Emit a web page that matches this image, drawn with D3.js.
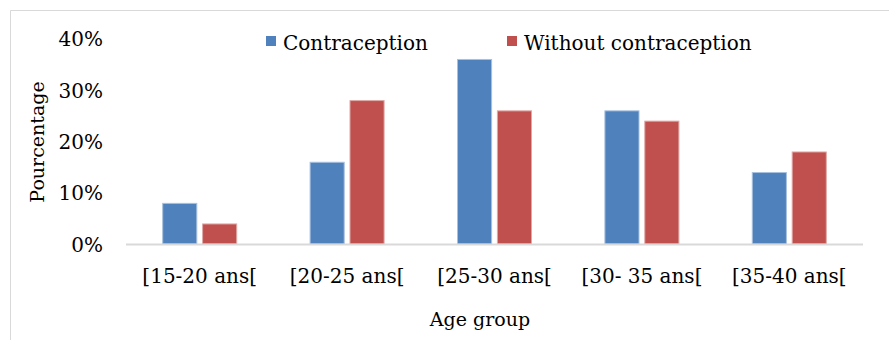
<!DOCTYPE html>
<html><head><meta charset="utf-8">
<script src="https://cdn.jsdelivr.net/npm/d3@7"></script>
<style>body{margin:0;background:#fff}svg{display:block}text{font-family:"DejaVu Serif",serif;fill:#000}</style>
</head><body><svg id="c" width="889" height="340"></svg>
<script>
const categories = ["[15-20 ans[", "[20-25 ans[", "[25-30 ans[", "[30- 35 ans[", "[35-40 ans["];
const contraception = [8, 16, 36, 26, 14];
const withoutContraception = [4, 28, 26, 24, 18];
const seriesNames = ["Contraception", "Without contraception"];
const yTicks = [0, 10, 20, 30, 40];
const colors = ["#4F81BD", "#C0504D"];
const strokes = ["#A7C0DE", "#DFA8A6"];

const svg = d3.select("#c");
// frame
svg.append("path").attr("d","M10.5,340 V10.5 H889").attr("fill","none").attr("stroke","#D9D9D9").attr("stroke-width",1);

const x0 = d3.scaleBand().domain(categories).range([126, 863]).paddingInner(0).paddingOuter(0);
const y = d3.scaleLinear().domain([0, 40]).range([244, 38.4]);
const x1 = d3.scaleBand().domain(seriesNames).range([0, 75]).paddingInner(0.12);
const groupOff = (x0.bandwidth() - 75) / 2;

const data = categories.map((c, i) => ({cat: c, vals: [contraception[i], withoutContraception[i]]}));

const g = svg.append("g");
g.selectAll("g.grp").data(data).join("g").attr("class","grp")
  .attr("transform", d => `translate(${x0(d.cat) + groupOff},0)`)
  .selectAll("rect").data(d => d.vals.map((v, k) => ({v, k})))
  .join("rect")
  .attr("x", d => x1(seriesNames[d.k]) + 0.5)
  .attr("width", x1.bandwidth() - 1)
  .attr("y", d => y(d.v) + 0.5)
  .attr("height", d => y(0) - y(d.v) - 0.5)
  .attr("fill", d => colors[d.k])
  .attr("stroke", d => strokes[d.k]).attr("stroke-width", 1);

// baseline
svg.append("line").attr("x1",126).attr("x2",863).attr("y1",y(0)+0.5).attr("y2",y(0)+0.5)
  .attr("stroke","#D9D9D9").attr("stroke-width",2);

// y axis labels
const yAxis = d3.axisLeft(y).tickValues(yTicks).tickFormat(d => d + "%").tickSize(0).tickPadding(0);
const ya = svg.append("g").attr("transform","translate(103,0)").call(yAxis);
ya.select(".domain").remove();
ya.selectAll("text").attr("font-size",20).attr("font-family","DejaVu Serif").attr("fill","#000").attr("dy","0.36em");

// x axis labels
const xAxis = d3.axisBottom(x0).tickSize(0).tickPadding(0);
const xa = svg.append("g").attr("transform","translate(0,283)").call(xAxis);
xa.select(".domain").remove();
xa.selectAll("text").attr("font-size",20).attr("font-family","DejaVu Serif").attr("fill","#000").attr("dy","0");

// axis titles
svg.append("text").attr("x",480).attr("y",326).attr("text-anchor","middle").attr("font-size",19).text("Age group");
svg.append("text").attr("transform","translate(44,142) rotate(-90)").attr("text-anchor","middle").attr("font-size",19).text("Pourcentage");

// legend
const legX = [266, 507];
seriesNames.forEach((n, k) => {
  svg.append("rect").attr("x", legX[k]).attr("y", 36).attr("width", 10).attr("height", 10).attr("fill", colors[k]);
  svg.append("text").attr("x", legX[k] + 17).attr("y", 50).attr("font-size", 20).text(n);
});
</script></body></html>
